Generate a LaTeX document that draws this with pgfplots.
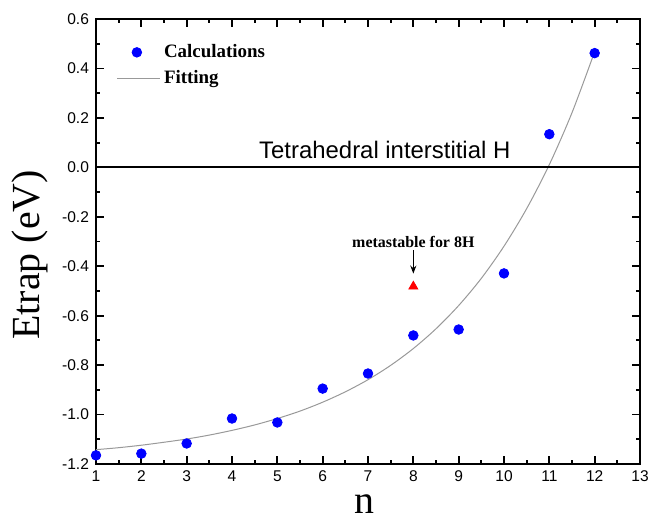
\documentclass[border=0pt]{standalone}
\usepackage{fontspec}
\setmainfont{Liberation Serif}
\newfontfamily\arial{Liberation Sans}
\usepackage{pgfplots}
\pgfplotsset{compat=1.18}
\usetikzlibrary{arrows.meta}

\begin{document}
\begin{tikzpicture}
\begin{axis}[
  scale only axis, width=272bp, height=222.5bp,
  xmin=1, xmax=13, ymin=-1.2, ymax=0.6,
  xtick={1,2,...,13}, ytick={-1.2,-1.0,...,0.61},
  minor x tick num=1, minor y tick num=1,
  tick align=inside, major tick length=4bp, minor tick length=2bp,
  axis line style={line width=1.2bp}, every tick/.style={line width=0.9bp, black},
  tick label style={font=\fontsize{7.8}{9}\arial},
  /pgf/number format/assume math mode=true,
  yticklabel style={/pgf/number format/.cd, fixed, fixed zerofill, precision=1},
  xlabel={n}, ylabel={Etrap (eV)},
  every axis x label/.style={at={(axis description cs:0.494,-0.090)}, anchor=center,
    font=\fontsize{20}{22}\selectfont},
  every axis y label/.style={at={(axis description cs:-0.121,0.47)}, rotate=90, anchor=center,
    font=\fontsize{20}{22}\selectfont},
  legend style={at={(axis description cs:0.026,0.962)}, anchor=north west, draw=none, fill=none,
    font=\fontsize{9.5}{11}\bfseries, row sep=1bp},
  legend cell align=left,
  clip=false]
\addplot[only marks, mark=*, mark size=2.4bp, blue, mark options={fill=blue, draw=blue}] coordinates {
  (1,-1.165) (2,-1.158) (3,-1.117) (4,-1.016) (5,-1.032) (6,-0.895)
  (7,-0.834) (8,-0.680) (9,-0.656) (10,-0.429) (11,0.134) (12,0.462)};
\addlegendentry{Calculations}
\addplot[gray!80, line width=0.5bp, smooth, legend image code/.code={\draw[gray!80, line width=0.5bp] (-0.05cm,0) -- (0.7cm,0);}] coordinates {
  (1,-1.142) (1.5,-1.134) (2,-1.124) (2.5,-1.112) (3,-1.099) (3.5,-1.083)
  (4,-1.064) (4.5,-1.042) (5,-1.016) (5.5,-0.986) (6,-0.950) (6.5,-0.908)
  (7,-0.859) (7.5,-0.801) (8,-0.733) (8.5,-0.653) (9,-0.559) (9.5,-0.449)
  (10,-0.319) (10.5,-0.167) (11,0.011) (11.5,0.221) (12,0.468)};
\addlegendentry{Fitting}
\addplot[black, line width=1.1bp, forget plot] coordinates {(1,0) (13,0)};
\addplot[only marks, mark=triangle*, mark size=2.6bp, red, mark options={fill=red, draw=red}, forget plot] coordinates {(8,-0.482)};
\node[font=\fontsize{12}{14}\arial] at (axis cs:7.37,0.072) {Tetrahedral interstitial H};
\node[font=\fontsize{8}{9}\bfseries] at (axis cs:8,-0.30) {metastable for 8H};
\draw[-{Stealth[length=4bp,width=3bp]}, line width=0.7bp] (axis cs:8,-0.335) -- (axis cs:8,-0.43);
\coordinate (sw) at (rel axis cs:0,0);
\coordinate (ne) at (rel axis cs:1,1);
\end{axis}
\pgfresetboundingbox
\path ([xshift=-48bp,yshift=-29bp]sw) rectangle ([xshift=12bp,yshift=9.5bp]ne);
\end{tikzpicture}
\end{document}
